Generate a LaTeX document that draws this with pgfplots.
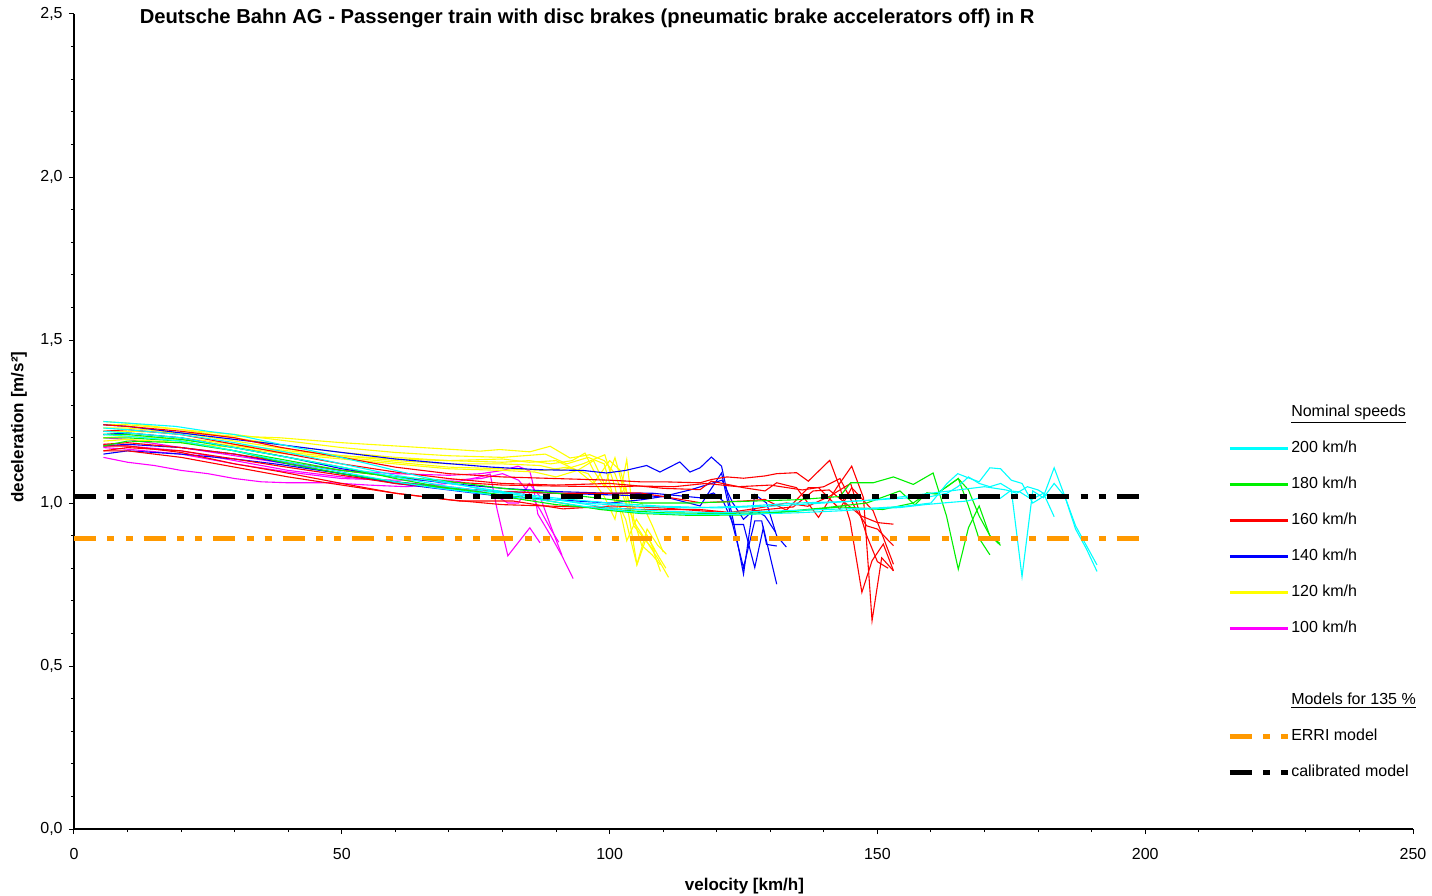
\documentclass[border=0pt]{standalone}
\usepackage{pgfplots}
\pgfplotsset{compat=1.18}
\usepackage{fontspec}
\setmainfont{Liberation Sans}
\definecolor{cy}{RGB}{0,255,255}
\definecolor{gr}{RGB}{0,240,0}
\definecolor{rd}{RGB}{255,0,0}
\definecolor{bl}{RGB}{0,0,255}
\definecolor{ye}{RGB}{255,255,0}
\definecolor{mg}{RGB}{255,0,255}
\definecolor{og}{RGB}{255,153,0}
\tikzset{mdash/.style={line width=2.5pt, dash pattern=on 11pt off 5.75pt on 3.5pt off 5.5pt on 3.5pt off 5.5pt}}
\begin{document}
\begin{tikzpicture}
\begin{axis}[name=ax,
  scale only axis, width=669.5pt, height=407.5pt,
  xmin=0, xmax=250, ymin=0, ymax=2.5,
  clip=false,
  axis x line*=bottom, axis y line*=left,
  axis line style={black, line width=0.7pt, -},
  tick align=outside, tick style={black, line width=0.5pt},
  major tick length=2.5pt, minor tick length=1.6pt,
  xtick={0,50,100,150,200,250}, minor x tick num=4,
  ytick={0,0.5,1,1.5,2,2.5}, minor y tick num=4,
  xticklabels={0,50,100,150,200,250},
  yticklabels={{0,0},{0,5},{1,0},{1,5},{2,0},{2,5}},
  ticklabel style={font=\fontsize{8}{9}\selectfont},
  xticklabel style={anchor=north, inner sep=0pt},
  yticklabel style={anchor=east, inner sep=0pt},
  xticklabel shift=7pt, yticklabel shift=3pt,
  xlabel={\textbf{velocity [km/h]}},
  ylabel={\textbf{deceleration [m/s²]}},
  label style={font=\fontsize{8.5}{10}\selectfont},
  xlabel style={at={(axis description cs:0.5007,-0.0700)}, anchor=center},
  ylabel style={at={(axis description cs:-0.0411,0.493)}, anchor=center},
  tr/.style={forget plot, line width=0.55pt, mark=none},
  legend image code/.code={\draw[#1] (0pt,0pt) -- (29pt,0pt);},
  legend cell align=left,
  legend style={at={(axis description cs:0.8632,0.5215)}, anchor=north west, xshift=-1.5pt,
    draw=none, fill=none, inner sep=0pt, row sep=10pt, column sep=0.5pt,
    font=\fontsize{8}{9}\selectfont,
    nodes={inner sep=0pt, text height=6pt, text depth=2pt}},
]
\addlegendimage{empty legend}\addlegendentry{\underline{Nominal speeds}}
\addlegendimage{cy, line width=1.5pt}\addlegendentry{200 km/h}
\addlegendimage{gr, line width=1.5pt}\addlegendentry{180 km/h}
\addlegendimage{rd, line width=1.5pt}\addlegendentry{160 km/h}
\addlegendimage{bl, line width=1.5pt}\addlegendentry{140 km/h}
\addlegendimage{ye, line width=1.5pt}\addlegendentry{120 km/h}
\addlegendimage{mg, line width=1.5pt}\addlegendentry{100 km/h}
\addlegendimage{empty legend}\addlegendentry{}
\addlegendimage{empty legend}\addlegendentry{\underline{Models for 135 \%}}
\addlegendimage{og, mdash}\addlegendentry{ERRI model}
\addlegendimage{black, mdash}\addlegendentry{calibrated model}

% 100 km/h
\addplot[tr, mg] coordinates {(5.5,1.14)(10,1.125)(15,1.115)(20,1.1)(25,1.09)(30,1.075)(35,1.065)(40,1.062)(48,1.062)(55,1.055)(62,1.05)(70,1.06)(75.8,1.08)(77.7,1.089)(79,0.98)(81,0.838)(83,0.88)(85.1,0.924)(87,0.878)};
\addplot[tr, mg] coordinates {(5.5,1.2)(10,1.195)(20,1.17)(30,1.145)(40,1.12)(50,1.1)(60,1.09)(70,1.085)(76,1.09)(80,1.1)(82.9,1.113)(85.1,1.098)(85.7,1.058)(86.6,0.966)(89,0.9)(91.1,0.838)(93.2,0.768)};
\addplot[tr, mg] coordinates {(5.5,1.18)(10,1.175)(20,1.16)(30,1.13)(40,1.1)(50,1.08)(60,1.065)(70,1.05)(75,1.04)(79,1.02)(81,1.0)(83,1.0)(85,1.06)(87,1.02)(89,0.93)(91.1,0.84)};
\addplot[tr, mg] coordinates {(5.5,1.17)(10,1.165)(20,1.15)(30,1.12)(40,1.095)(50,1.075)(60,1.07)(70,1.07)(76,1.075)(80,1.09)(83,1.07)(85,1.03)(87,0.98)(89,0.92)(90.5,0.88)};
% 120 km/h
\addplot[tr, ye] coordinates {(5.5,1.22)(10,1.22)(20,1.215)(30,1.205)(38.5,1.2)(50,1.185)(60,1.175)(70,1.165)(75.8,1.159)(79.5,1.164)(85.1,1.157)(88.9,1.174)(92.6,1.138)(96.3,1.148)(99,1.13)(101,1.09)(103,1.0)(105,0.93)(107,0.88)(109,0.83)(111,0.772)};
\addplot[tr, ye] coordinates {(5.5,1.25)(10,1.245)(20,1.225)(30,1.2)(40,1.175)(50,1.155)(60,1.14)(70,1.13)(80,1.125)(85,1.13)(89,1.12)(93,1.13)(95.4,1.153)(97,1.1)(99,1.05)(101,1.139)(103,1.02)(105.1,0.812)(107,0.92)(109,0.87)(110.6,0.843)};
\addplot[tr, ye] coordinates {(5.5,1.23)(10,1.23)(20,1.215)(30,1.19)(40,1.165)(50,1.145)(60,1.13)(70,1.12)(80,1.12)(87,1.115)(91,1.1)(95,1.12)(99.1,1.148)(101,1.05)(103.2,0.884)(105,0.95)(107,0.9)(109,0.84)(110.5,0.8)};
\addplot[tr, ye] coordinates {(5.5,1.2)(10,1.205)(20,1.195)(30,1.175)(40,1.155)(50,1.14)(60,1.125)(70,1.11)(80,1.105)(88,1.1)(92,1.11)(96,1.09)(99,1.02)(101,0.95)(103.2,1.133)(104.5,0.95)(106,0.87)(108,0.84)(109.5,0.81)};
\addplot[tr, ye] coordinates {(5.5,1.21)(10,1.215)(20,1.2)(30,1.18)(40,1.16)(50,1.145)(60,1.135)(70,1.13)(80,1.135)(85,1.125)(90,1.13)(94,1.1)(97,1.06)(100,1.13)(102,1.1)(104,0.98)(106,1.0)(108,0.93)(110,0.85)};
\addplot[tr, ye] coordinates {(5.5,1.24)(10,1.24)(20,1.225)(30,1.21)(40,1.19)(50,1.17)(60,1.155)(70,1.145)(80,1.14)(88,1.15)(92,1.12)(96,1.14)(99,1.12)(101,1.0)(103,1.05)(104.5,0.93)(106,0.9)(108,0.86)(109.5,0.79)};
\addplot[tr, ye] coordinates {(5.5,1.19)(10,1.195)(20,1.185)(30,1.17)(40,1.15)(50,1.135)(60,1.12)(70,1.105)(80,1.1)(86,1.095)(90,1.08)(94,1.1)(97,1.13)(99,1.06)(101,1.02)(103,0.95)(105.1,0.81)(107,0.9)(108.5,0.85)};
% 140 km/h
\addplot[tr, bl] coordinates {(5.5,1.24)(10,1.235)(20,1.215)(30,1.195)(38.5,1.179)(50,1.155)(60,1.135)(68.3,1.123)(78,1.11)(87,1.102)(95,1.1)(99.4,1.092)(103,1.1)(106.9,1.115)(109.4,1.095)(113.1,1.126)(115,1.095)(116.9,1.108)(119,1.141)(120.9,1.113)(123.1,0.945)(125,0.782)(127.1,1.026)(129.3,1.0)(131.2,0.899)(133,0.865)};
\addplot[tr, bl] coordinates {(5.5,1.15)(10,1.16)(20,1.15)(30,1.135)(38.5,1.118)(50,1.09)(60,1.065)(70,1.045)(80,1.035)(90,1.03)(100,1.025)(110,1.02)(116.9,0.991)(118.7,1.037)(120.9,1.092)(122.8,0.945)(125,0.802)(127.1,0.945)(128.4,0.945)(129.3,0.873)(131.2,0.868)};
\addplot[tr, bl] coordinates {(5.5,1.21)(10,1.215)(20,1.2)(30,1.17)(40,1.14)(50,1.105)(60,1.08)(70,1.06)(80,1.045)(90,1.035)(100,1.03)(108,1.03)(116.9,1.016)(119.4,1.031)(121.2,1.006)(123.1,0.934)(125,0.934)(127.1,0.802)(128.7,0.924)(131.2,0.751)};
\addplot[tr, bl] coordinates {(5.5,1.175)(10,1.18)(20,1.17)(30,1.15)(40,1.12)(50,1.09)(60,1.06)(70,1.04)(80,1.02)(90,1.01)(100,1.0)(106,1.01)(110,1.02)(115,1.04)(119,1.06)(121,1.07)(123,1.0)(125,0.95)(127,0.98)(129,0.96)(131,0.91)};
% 160 km/h
\addplot[tr, rd] coordinates {(5.5,1.24)(10,1.235)(20,1.22)(30,1.2)(38.5,1.171)(50,1.14)(60,1.11)(70,1.09)(80,1.08)(90,1.075)(100,1.07)(105.7,1.065)(110,1.065)(116.9,1.062)(119,1.072)(121.9,1.08)(125,1.076)(129,1.083)(131.2,1.09)(134.9,1.093)(137.1,1.067)(141.1,1.131)(143,1.047)(144.9,0.945)(147.1,0.726)(149,0.823)(151.1,0.874)(153,0.792)};
\addplot[tr, rd] coordinates {(5.5,1.18)(10,1.185)(20,1.17)(30,1.15)(38.5,1.128)(50,1.1)(60,1.08)(70,1.065)(80,1.055)(90,1.052)(100,1.05)(105.7,1.052)(110,1.045)(116.9,1.041)(119,1.067)(125,1.047)(129,1.037)(131.2,1.062)(134.9,1.047)(139,0.956)(142.4,1.047)(145.2,1.113)(147.4,1.016)(149,0.639)(150.8,0.832)(153,0.792)};
\addplot[tr, rd] coordinates {(5.5,1.16)(10,1.17)(20,1.16)(30,1.135)(38.5,1.113)(50,1.085)(60,1.06)(70,1.045)(80,1.035)(90,1.03)(100,1.03)(105.7,1.031)(110,1.02)(116.9,1.001)(125,1.006)(129,1.011)(133,0.978)(137.1,1.047)(139,1.047)(143,0.981)(145.2,1.047)(149.2,0.976)(153,0.812)};
\addplot[tr, rd] coordinates {(5.5,1.175)(10,1.175)(20,1.155)(30,1.12)(38.5,1.096)(50,1.06)(60,1.03)(70,1.01)(80,0.995)(90,0.99)(100,0.985)(105.7,0.98)(116.9,0.98)(123.1,0.97)(129.3,0.98)(134.3,0.988)(138,1.037)(141,1.04)(144,1.0)(147,0.96)(150,0.94)(153,0.935)};
\addplot[tr, rd] coordinates {(5.5,1.22)(10,1.225)(20,1.21)(30,1.18)(40,1.15)(50,1.12)(60,1.095)(70,1.075)(80,1.06)(90,1.055)(100,1.06)(105.7,1.052)(112,1.05)(118,1.06)(124,1.05)(130,1.055)(136,1.04)(140,1.05)(143,1.075)(146,0.98)(148,0.93)(150,0.92)(153,0.869)};
\addplot[tr, rd] coordinates {(5.5,1.16)(10,1.16)(20,1.14)(30,1.11)(40,1.08)(50,1.055)(60,1.03)(72,1.006)(82,1.006)(91.3,0.982)(100.6,0.991)(110,0.985)(116.9,0.976)(122,0.97)(128,0.985)(133,1.0)(137,0.99)(141,1.02)(145,1.06)(148,0.9)(150,0.82)(152,0.8)};
% 180 km/h
\addplot[tr, gr] coordinates {(5.5,1.21)(10,1.21)(20,1.195)(30,1.17)(40,1.14)(50,1.11)(60,1.075)(68.3,1.05)(80,1.025)(87,1.011)(98.2,0.98)(105.7,0.968)(115,0.962)(124.3,0.963)(135,0.975)(143,0.988)(151,0.98)(156.7,1.0)(159.2,1.03)(161,1.028)(163,1.05)(165.1,1.075)(167,0.991)(168.9,0.894)(171,0.841)};
\addplot[tr, gr] coordinates {(5.5,1.175)(10,1.19)(20,1.185)(30,1.16)(40,1.13)(50,1.1)(60,1.08)(68.3,1.07)(80,1.045)(90,1.03)(105.7,1.0)(115,1.0)(125,1.005)(135,1.01)(143,1.02)(145,1.062)(149.2,1.062)(153,1.08)(156.7,1.057)(160.4,1.092)(162.9,0.96)(165.1,0.797)(167,0.924)(169,0.991)(171,0.899)(172.9,0.876)};
\addplot[tr, gr] coordinates {(5.5,1.2)(10,1.2)(20,1.19)(30,1.16)(40,1.12)(50,1.09)(60,1.065)(70,1.045)(80,1.02)(90,0.995)(100,0.98)(110,0.97)(120,0.968)(130,0.97)(140,0.985)(148,1.0)(154.2,1.037)(157,0.994)(159.2,1.031)(161,1.028)(165.1,1.075)(167,1.04)(169,0.96)(171,0.9)(173,0.87)};
% 200 km/h
\addplot[tr, cy] coordinates {(5.5,1.25)(10,1.245)(19,1.235)(25,1.22)(30,1.21)(38.5,1.18)(46.5,1.153)(55,1.12)(65,1.08)(75.8,1.043)(85,1.02)(95,1.0)(105,0.99)(115,0.985)(125,0.99)(135,1.0)(145,1.005)(155,1.015)(160,1.02)(163,1.03)(165,1.05)(167,1.08)(169,1.06)(171,1.05)(173,1.06)(175,1.04)(177,0.774)(179,1.037)(181,1.016)(183,1.06)(185,1.02)(187,0.92)(189,0.86)(191,0.79)};
\addplot[tr, cy] coordinates {(5.5,1.22)(10,1.215)(20,1.2)(30,1.17)(38.5,1.144)(50,1.11)(60,1.08)(70,1.05)(80,1.03)(90,1.01)(100,0.985)(110,0.975)(120,0.97)(130,0.975)(140,0.98)(150,0.985)(155,0.99)(160,1.0)(163,1.06)(165,1.09)(167,1.077)(169,1.065)(171,1.108)(173,1.105)(175,1.07)(177,1.06)(179,1.0)(181,1.02)(183,1.108)(185,1.02)(187,0.93)(189,0.87)(191,0.81)};
\addplot[tr, cy] coordinates {(5.5,1.21)(10,1.205)(20,1.19)(30,1.16)(38.5,1.13)(50,1.095)(60,1.065)(68,1.045)(75.8,1.03)(87,1.01)(95,0.99)(105.7,0.97)(115,0.965)(124.3,0.965)(135,0.97)(143,0.976)(150,0.983)(154.2,0.986)(158.9,0.995)(162.9,1.001)(166.7,1.006)(169.2,1.016)(172.9,1.014)(174.8,1.037)(176.6,1.034)(178.8,1.011)(181,1.03)(183,0.958)};
\addplot[tr, cy] coordinates {(5.5,1.23)(10,1.225)(20,1.21)(30,1.185)(40,1.155)(50,1.12)(60,1.085)(70,1.06)(80,1.035)(90,1.015)(100,1.0)(110,0.99)(120,0.985)(130,0.99)(140,1.0)(150,1.01)(155,1.02)(160,1.03)(165,1.04)(170,1.05)(174,1.04)(176,1.03)(178,1.05)(180,1.04)(182,1.02)};
% models
\addplot[forget plot, og, mdash] coordinates {(0,0.89)(200,0.89)};
\addplot[forget plot, black, mdash] coordinates {(0,1.02)(200,1.02)};
\node[font=\bfseries\fontsize{10.1}{12}\selectfont, anchor=center] at (axis cs:95.8,2.486) {Deutsche Bahn AG - Passenger train with disc brakes (pneumatic brake accelerators off) in R};
\end{axis}
\pgfresetboundingbox
\path[use as bounding box] ([xshift=-37pt,yshift=-33pt]ax.south west) rectangle ([xshift=9.5pt,yshift=7pt]ax.north east);
\end{tikzpicture}
\end{document}
